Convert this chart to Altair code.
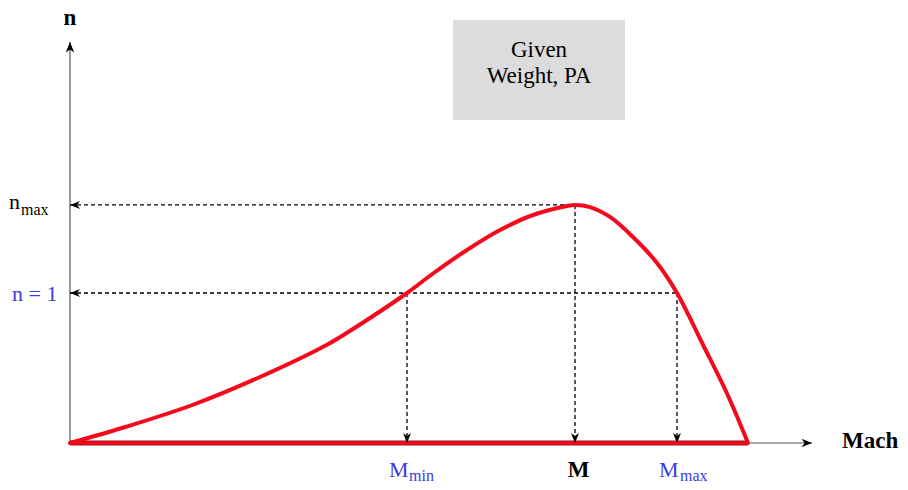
import altair as alt
import pandas as pd

# ---- data (Mach units on x, load factor n on y) ----
curve_mach = [0, 0.57, 1.23, 1.90, 2.57, 2.83, 3.37, 3.63, 3.97, 4.30, 4.63,
              4.97, 5.05, 5.20, 5.40, 5.63, 5.87, 6.07, 6.33, 6.57, 6.78]
curve_n = [0, 0.11, 0.255, 0.44, 0.655, 0.76, 1.0, 1.13, 1.287, 1.42, 1.52,
           1.58, 1.587, 1.573, 1.507, 1.373, 1.20, 1.0, 0.655, 0.33, 0]

m_min, m_best, m_max, m_end = 3.37, 5.05, 6.07, 6.78
n_one, n_max = 1.0, 1.587
x_axis_end, y_axis_end = 7.42, 2.673

box_x = [3.83, 5.55]
box_y = [2.153, 2.82]
box_lines = ["Given", "Weight, PA"]

FONT = "Liberation Serif"
RED = "#f40a1c"
BLUE = "#3a3ae6"

xs = alt.Scale(domain=[-0.62, 8.30], nice=False, zero=False)
ys = alt.Scale(domain=[-0.26, 2.90], nice=False, zero=False)

def X(f="x"):
    return alt.X(f"{f}:Q", scale=xs, axis=None)

def Y(f="y"):
    return alt.Y(f"{f}:Q", scale=ys, axis=None)

# gray box
box = alt.Chart(pd.DataFrame({"x": [box_x[0]], "x2": [box_x[1]],
                              "y": [box_y[0]], "y2": [box_y[1]]})).mark_rect(
    color="#dcdcdc").encode(x=X(), x2="x2:Q", y=Y(), y2="y2:Q")

box_text = alt.Chart(pd.DataFrame({
    "x": [(box_x[0] + box_x[1]) / 2] * 2,
    "y": [2.573, 2.4],
    "t": box_lines})).mark_text(font=FONT, fontSize=23, color="black",
                                 align="center", baseline="alphabetic").encode(
    x=X(), y=Y(), text="t:N")

# axes
axes = alt.Chart(pd.DataFrame({"x": [0, 0], "x2": [x_axis_end, 0],
                               "y": [0, 0], "y2": [0, y_axis_end]})).mark_rule(
    color="#555555", strokeWidth=1.2).encode(x=X(), x2="x2:Q", y=Y(), y2="y2:Q")

# dashed guide lines
dash = alt.Chart(pd.DataFrame({
    "x": [0, 0, m_min, m_best, m_max],
    "x2": [m_best, m_max, m_min, m_best, m_max],
    "y": [n_max, n_one, n_one, n_max, n_one],
    "y2": [n_max, n_one, 0, 0, 0]})).mark_rule(
    color="black", strokeWidth=1.3, strokeDash=[4, 3]).encode(
    x=X(), x2="x2:Q", y=Y(), y2="y2:Q")

# red baseline
base_df = pd.DataFrame({"x": [0], "x2": [m_end], "y": [0], "y2": [0]})
base_dark = alt.Chart(base_df).mark_rule(color="#a0101a", strokeWidth=5).encode(
    x=X(), x2="x2:Q", y=Y(), y2="y2:Q")
base_red = alt.Chart(base_df).mark_rule(color=RED, strokeWidth=3).encode(
    x=X(), x2="x2:Q", y=Y(), y2="y2:Q")

# red curve
curve = alt.Chart(pd.DataFrame({"x": curve_mach, "y": curve_n})).mark_line(
    color=RED, strokeWidth=4, interpolate="catmull-rom", strokeCap="round").encode(
    x=X(), y=Y(), order="x:Q")

# arrow heads
STEALTH = "M0,0 L-2,-0.8 L-1.4,0 L-2,0.8 Z"
heads = alt.Chart(pd.DataFrame({
    "x": [0, 0, m_min, m_best, m_max],
    "y": [n_max, n_one, 0, 0, 0],
    "a": [180, 180, 90, 90, 90]})).mark_point(
    shape=STEALTH, filled=True, size=100, color="black", opacity=1,
    strokeWidth=0).encode(x=X(), y=Y(), angle=alt.Angle("a:Q", scale=None))

axis_heads = alt.Chart(pd.DataFrame({
    "x": [x_axis_end, 0], "y": [0, y_axis_end], "a": [0, 270]})).mark_point(
    shape=STEALTH, filled=True, size=110, color="black", opacity=1,
    strokeWidth=0).encode(x=X(), y=Y(), angle=alt.Angle("a:Q", scale=None))

# bold labels
bold_lbl = alt.Chart(pd.DataFrame({
    "x": [0, m_best + 0.035], "y": [2.787, -0.225], "t": ["n", "M"]})).mark_text(
    font=FONT, fontSize=23, fontWeight="bold", color="black",
    align="center", baseline="alphabetic").encode(x=X(), y=Y(), text="t:N")

mach_lbl = alt.Chart(pd.DataFrame({"x": [7.72], "y": [-0.033], "t": ["Mach"]})).mark_text(
    font=FONT, fontSize=23, fontWeight="bold", color="black",
    align="left", baseline="alphabetic").encode(x=X(), y=Y(), text="t:N")

# regular labels (main glyphs)
main_black = alt.Chart(pd.DataFrame({"x": [-0.61], "y": [1.56], "t": ["n"]})).mark_text(
    font=FONT, fontSize=22, color="black", align="left",
    baseline="alphabetic").encode(x=X(), y=Y(), text="t:N")
sub_black = alt.Chart(pd.DataFrame({"x": [-0.49], "y": [1.52], "t": ["max"]})).mark_text(
    font=FONT, fontSize=16, color="black", align="left",
    baseline="alphabetic").encode(x=X(), y=Y(), text="t:N")

main_blue = alt.Chart(pd.DataFrame({
    "x": [-0.58, 3.19, 5.89], "y": [0.947, -0.225, -0.225],
    "t": ["n = 1", "M", "M"]})).mark_text(
    font=FONT, fontSize=22, color=BLUE, align="left",
    baseline="alphabetic").encode(x=X(), y=Y(), text="t:N")
sub_blue = alt.Chart(pd.DataFrame({
    "x": [3.39, 6.10], "y": [-0.25, -0.25], "t": ["min", "max"]})).mark_text(
    font=FONT, fontSize=16, color=BLUE, align="left",
    baseline="alphabetic").encode(x=X(), y=Y(), text="t:N")

chart = alt.layer(
    box, box_text, axes, dash, base_dark, base_red, curve, heads, axis_heads,
    bold_lbl, mach_lbl, main_black, sub_black, main_blue, sub_blue
).properties(
    width=892, height=474, padding=0,
    autosize=alt.AutoSizeParams(type="none"),
    background="white",
).configure_view(strokeWidth=0)

chart.save("out.html", embed_options={"renderer": "svg", "actions": False})
